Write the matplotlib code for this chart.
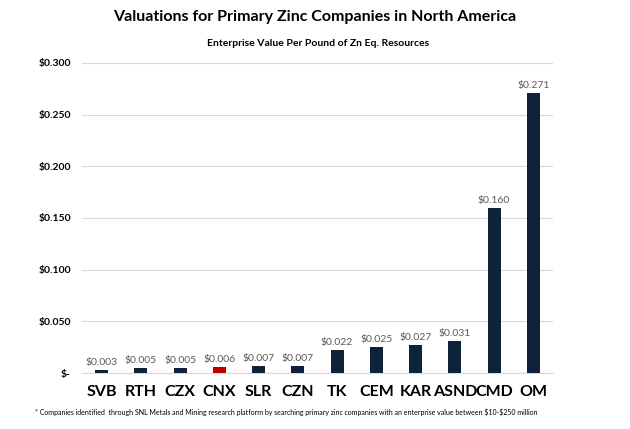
import matplotlib
matplotlib.use("Agg")
import matplotlib.pyplot as plt
from matplotlib.ticker import FuncFormatter

companies = ["SVB", "RTH", "CZX", "CNX", "SLR", "CZN", "TK", "CEM", "KAR", "ASND", "CMD", "OM"]
values = [0.003, 0.005, 0.005, 0.006, 0.007, 0.007, 0.022, 0.025, 0.027, 0.031, 0.160, 0.271]
highlight = "CNX"
yticks = [0.0, 0.05, 0.10, 0.15, 0.20, 0.25, 0.30]

plt.rcParams['font.family'] = ['Lato', 'DejaVu Sans']

fig = plt.figure(figsize=(6.3, 4.29), dpi=100)
ax = fig.add_axes([82/630, 1 - 373/429, (553-82)/630, (373-63)/429])

colors = ["#c00000" if c == highlight else "#0e2239" for c in companies]
x = range(len(companies))
ax.bar(x, values, width=0.33, color=colors, zorder=3)
for xi, v in zip(x, values):
    ax.text(xi, v + 0.003, f"\\${v:.3f}", ha="center", va="bottom", fontsize=7.5, color="#595959")

ax.set_xlim(-0.5, len(companies) - 0.5)
ax.set_ylim(0, 0.3)
ax.set_yticks(yticks)
ax.yaxis.set_major_formatter(FuncFormatter(lambda v, p: "\\$-" if v == 0 else f"\\${v:.3f}"))
ax.set_xticks(list(x))
ax.set_xticklabels(companies, fontsize=11.5, fontweight="bold")
for lbl in ax.get_yticklabels():
    lbl.set_fontsize(7.5)
    lbl.set_fontweight("bold")
ax.tick_params(axis="both", length=0)
ax.tick_params(axis="x", pad=9)
ax.tick_params(axis="y", pad=8)
ax.grid(axis="y", color="#d9d9d9", linewidth=0.8, zorder=0)
for s in ["top", "right", "left"]:
    ax.spines[s].set_visible(False)
ax.spines["bottom"].set_color("#d9d9d9")

fig.text(0.5, 1 - 17/429, "Valuations for Primary Zinc Companies in North America",
         ha="center", va="center", fontsize=11.5, fontweight="bold")
fig.text(0.505, 1 - 43/429, "Enterprise Value Per Pound of Zn Eq. Resources",
         ha="center", va="center", fontsize=7.5, fontweight="bold")
fig.text(35/630, 1 - 412/429,
         "* Companies identified  through SNL Metals and Mining research platform by searching primary zinc companies with an enterprise value between \\$10-\\$250 million",
         ha="left", va="center", fontsize=5)

fig.savefig("out.png", dpi=100)
